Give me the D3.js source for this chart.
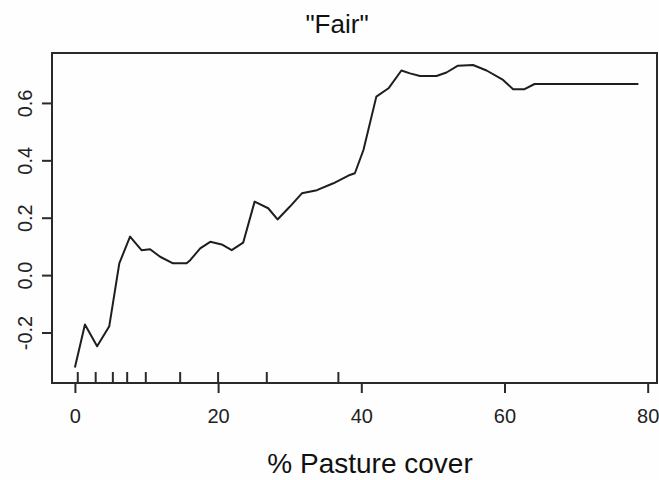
<!DOCTYPE html>
<html>
<head>
<meta charset="utf-8">
<script src="https://cdn.jsdelivr.net/npm/d3@7"></script>
<style>
  html, body { margin: 0; padding: 0; background: #fefefe; }
  svg { display: block; font-family: "Liberation Sans", Arial, Helvetica, sans-serif; }
</style>
</head>
<body>
<svg id="chart" width="659" height="480"></svg>
<script>
// Partial dependence of the "Fair" response on pasture cover
const pastureCover = [0, 1.4, 3.1, 4.8, 6.2, 7.7, 9.3, 10.5, 11.9, 13.7, 15.6, 16.1, 17.5, 18.9, 20.5, 21.9, 23.5,
  25.1, 27.0, 28.3, 30.0, 31.7, 33.8, 36.1, 38.4, 39.1, 40.3, 42.1, 43.8, 45.6, 46.8, 48.2, 50.5, 51.9, 53.5,
  55.6, 57.5, 59.8, 61.2, 62.8, 64.2, 78.7];
const effect = [-0.322, -0.172, -0.248, -0.178, 0.041, 0.134, 0.087, 0.090, 0.064, 0.041, 0.041, 0.052, 0.093, 0.116, 0.107, 0.087, 0.113,
  0.256, 0.233, 0.194, 0.238, 0.285, 0.296, 0.320, 0.349, 0.355, 0.436, 0.622, 0.651, 0.713, 0.703, 0.694, 0.694, 0.706, 0.730,
  0.732, 0.713, 0.680, 0.648, 0.648, 0.666, 0.666];
// Observed pasture cover values shown as a rug
const rugValues = [0.4, 2.9, 5.3, 7.3, 9.9, 14.7, 20.0, 26.8, 36.8];
const xTicks = [0, 20, 40, 60, 80];
const yTicks = [-0.2, 0.0, 0.2, 0.4, 0.6];
const titleText = '"Fair"';
const xLabel = "% Pasture cover";

const svg = d3.select("#chart");
const frame = { left: 52, right: 657, top: 53, bottom: 383 };

const x = d3.scaleLinear().domain([-3.2, 81.3]).range([frame.left, frame.right]);
const y = d3.scaleLinear().domain([-0.376, 0.774]).range([frame.bottom, frame.top]);

const ink = "#2a2a2a";

// plot frame
svg.append("rect")
  .attr("x", frame.left).attr("y", frame.top)
  .attr("width", frame.right - frame.left).attr("height", frame.bottom - frame.top)
  .attr("fill", "none").attr("stroke", ink).attr("stroke-width", 2);

// x axis
const xAxis = svg.append("g")
  .attr("transform", `translate(0,${frame.bottom})`)
  .call(d3.axisBottom(x).tickValues(xTicks).tickSize(10).tickPadding(16).tickFormat(d3.format("d")));
xAxis.select(".domain").remove();
xAxis.selectAll("line").attr("stroke", ink).attr("stroke-width", 2);
xAxis.selectAll("text").attr("font-size", 20).attr("fill", "#222");

// y axis with rotated labels, plain hyphen for negatives
const fmtY = d => d3.format(".1f")(d).replace("\u2212", "-");
const yAxis = svg.append("g")
  .attr("transform", `translate(${frame.left},0)`)
  .call(d3.axisLeft(y).tickValues(yTicks).tickSize(10).tickFormat(fmtY));
yAxis.select(".domain").remove();
yAxis.selectAll("line").attr("stroke", ink).attr("stroke-width", 2);
yAxis.selectAll("text")
  .attr("font-size", 20).attr("fill", "#222")
  .attr("x", null).attr("dy", null)
  .attr("text-anchor", "middle")
  .attr("transform", "translate(-20,0) rotate(-90)");

// rug
svg.append("g").selectAll("line")
  .data(rugValues)
  .join("line")
  .attr("x1", d => x(d)).attr("x2", d => x(d))
  .attr("y1", frame.bottom).attr("y2", frame.bottom - 11)
  .attr("stroke", ink).attr("stroke-width", 2);

// response curve
const line = d3.line()
  .x((d, i) => x(pastureCover[i]))
  .y(d => y(d));
svg.append("path")
  .datum(effect)
  .attr("d", line)
  .attr("fill", "none")
  .attr("stroke", "#1e1e1e")
  .attr("stroke-width", 2)
  .attr("stroke-linejoin", "round");

// title
svg.append("text")
  .attr("x", 337).attr("y", 33)
  .attr("text-anchor", "middle")
  .attr("font-size", 26).attr("fill", "#111")
  .text(titleText);

// x axis title
svg.append("text")
  .attr("x", 370).attr("y", 473)
  .attr("text-anchor", "middle")
  .attr("font-size", 28).attr("fill", "#111")
  .text(xLabel);
</script>
</body>
</html>
